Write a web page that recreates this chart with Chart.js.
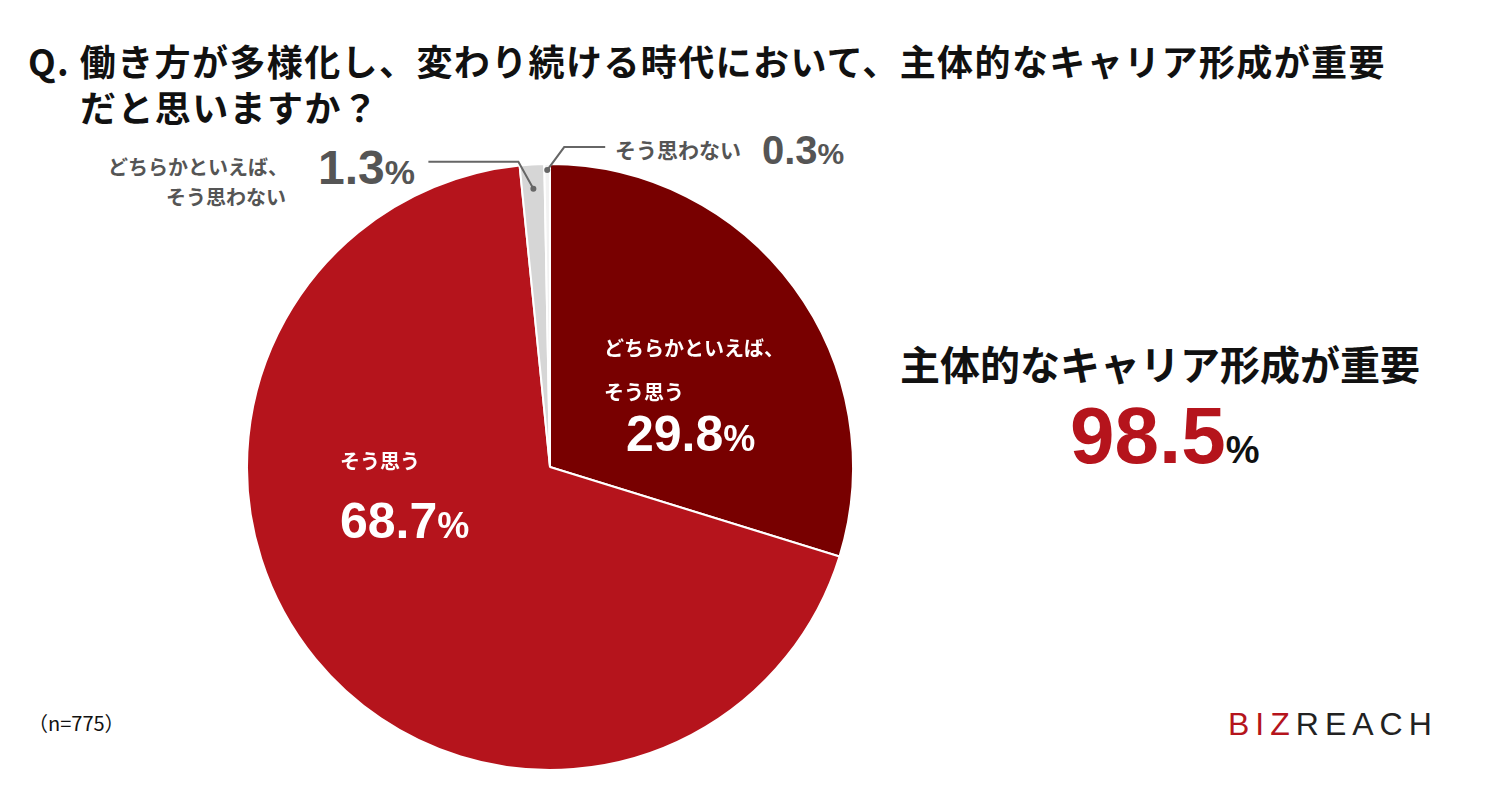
<!DOCTYPE html>
<html><head><meta charset="utf-8">
<script src="https://cdn.jsdelivr.net/npm/chart.js"></script>
<style>
body{margin:0;width:1500px;height:788px;background:#fff;font-family:"Noto Sans CJK JP","Noto Sans",sans-serif;position:relative;overflow:hidden}
.t{position:absolute;white-space:nowrap;font-weight:bold}
#wrap{position:absolute;left:146px;top:123px;width:808px;height:648px}
</style></head><body>
<div class="t" style="left:28px;top:34px;font-size:36px;color:#111;letter-spacing:1.4px">Q. 働き方が多様化し、変わり続ける時代において、主体的なキャリア形成が重要</div>
<div class="t" style="left:80px;top:80px;font-size:36px;color:#111;letter-spacing:1.4px">だと思いますか？</div>
<div class="t" style="left:108px;top:152px;font-size:20px;color:#555;line-height:30px">どちらかといえば、<br><span style="margin-left:58px">そう思わない</span></div>
<div class="t" style="left:318px;top:140px;font-size:48px;color:#555;font-family:Arial,'Liberation Sans'">1.3<span style="font-size:34px">%</span></div>
<div class="t" style="left:615px;top:134px;font-size:21px;color:#555">そう思わない</div>
<div class="t" style="left:762px;top:128px;font-size:40px;color:#555;font-family:Arial,'Liberation Sans'">0.3<span style="font-size:30px">%</span></div>
<div class="t" style="left:604px;top:326px;font-size:20px;color:#fff;line-height:44px;z-index:2">どちらかといえば、<br>そう思う</div>
<div class="t" style="left:626px;top:405px;font-size:50px;color:#fff;font-family:Arial,'Liberation Sans';z-index:2">29.8<span style="font-size:36px">%</span></div>
<div class="t" style="left:340px;top:446px;font-size:20px;color:#fff;z-index:2">そう思う</div>
<div class="t" style="left:340px;top:492px;font-size:50px;color:#fff;font-family:Arial,'Liberation Sans';z-index:2">68.7<span style="font-size:36px">%</span></div>
<div class="t" style="left:900px;top:334px;font-size:40px;color:#111">主体的なキャリア形成が重要</div>
<div class="t" style="left:1070px;top:390px;font-size:80px;color:#b5141c;font-family:Arial,'Liberation Sans'">98.5<span style="font-size:38px;color:#111">%</span></div>
<div class="t" style="left:28px;top:708px;font-size:20px;color:#111;font-weight:normal">（n=775）</div>
<div class="t" style="left:1228px;top:706px;font-size:32px;letter-spacing:6px;font-family:Arial,'Liberation Sans';font-weight:normal"><span style="color:#b5141c">BIZ</span><span style="color:#222">REAC</span><span style="color:#222">H</span></div>
<div id="wrap"><canvas id="c"></canvas></div>
<script>
const categories=["どちらかといえば、そう思う","そう思う","どちらかといえば、そう思わない","そう思わない"];
const values=[29.8,68.7,1.3,0.3];
const colors=["#780000","#b5141c","#d6d6d6","#f2f2f2"];
const leaders={
 2:{dx:-15,dy:-27,hx:-90},
 3:{dx:17,dy:-23,hx:41}
};
const leaderPlugin={id:'leader',afterDatasetsDraw(chart){
 const ctx=chart.ctx;const meta=chart.getDatasetMeta(0);
 ctx.save();ctx.strokeStyle="#666";ctx.fillStyle="#666";ctx.lineWidth=2;
 for(const k in leaders){const a=meta.data[k];const L=leaders[k];
  const mid=(a.startAngle+a.endAngle)/2;const rr=a.outerRadius*(k==2?0.92:0.98);
  const x=a.x+Math.cos(mid)*rr,y=a.y+Math.sin(mid)*rr;
  ctx.beginPath();ctx.arc(x,y,3,0,Math.PI*2);ctx.fill();
  ctx.beginPath();ctx.moveTo(x,y);ctx.lineTo(x+L.dx,y+L.dy);ctx.lineTo(x+L.dx+L.hx,y+L.dy);ctx.stroke();}
 ctx.restore();}};
new Chart(document.getElementById('c'),{type:'pie',
 data:{labels:categories,datasets:[{data:values,backgroundColor:colors,borderColor:"#fff",borderWidth:2}]},
 options:{responsive:true,maintainAspectRatio:false,animation:false,layout:{padding:{top:40,bottom:0,left:100,right:100}},
  plugins:{legend:{display:false},tooltip:{enabled:false}}},
 plugins:[leaderPlugin]});
</script></body></html>
